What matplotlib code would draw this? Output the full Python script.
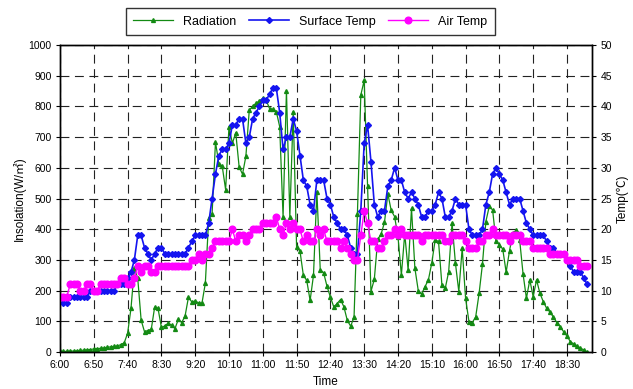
import numpy as np
import matplotlib
matplotlib.use("Agg")
import matplotlib.pyplot as plt

plt.rcParams['font.family'] = ['Liberation Sans', 'Noto Sans CJK KR']

# readings every 5 minutes, 6:00 .. 19:00
step_min = 5
radiation = [
    2, 2, 2, 3, 3, 4, 5, 6, 7, 8,
    10, 11, 12, 13, 15, 17, 18, 20, 24, 30,
    61, 142, 273, 240, 104, 66, 70, 74, 146, 142,
    80, 85, 93, 88, 76, 106, 96, 117, 178, 163,
    166, 160, 159, 224, 436, 451, 684, 614, 605, 529,
    734, 680, 714, 603, 579, 638, 788, 800, 810, 818,
    826, 820, 793, 790, 783, 734, 440, 851, 440, 783,
    342, 329, 250, 233, 168, 250, 522, 268, 258, 214,
    179, 147, 158, 171, 147, 103, 84, 114, 450, 837,
    885, 540, 197, 237, 367, 384, 422, 515, 461, 441,
    376, 251, 385, 267, 468, 273, 200, 189, 213, 235,
    290, 365, 360, 218, 208, 262, 420, 289, 197, 338,
    175, 99, 96, 115, 191, 287, 425, 474, 463, 360,
    350, 335, 260, 330, 387, 396, 365, 255, 175, 235,
    180, 235, 191, 164, 142, 130, 113, 96, 83, 66,
    52, 34, 26, 20, 12, 7, 0,
]
surface_temp = [
    9, 8, 8, 9, 9, 9, 9, 9, 9, 10,
    10, 10, 10, 10, 10, 10, 10, 11, 11, 11,
    12, 13, 15, 19, 19, 17, 16, 15, 16, 17,
    17, 16, 16, 16, 16, 16, 16, 16, 17, 18,
    19, 19, 19, 19, 21, 25, 29, 32, 33, 33,
    34, 37, 37, 38, 38, 34, 35, 38, 39, 40,
    41, 41, 42, 43, 43, 39, 33, 35, 35, 38,
    36, 32, 28, 27, 24, 23, 28, 28, 28, 25,
    24, 22, 21, 20, 20, 19, 17, 16, 16, 23,
    34, 37, 31, 24, 22, 23, 23, 27, 28, 30,
    28, 28, 26, 25, 26, 25, 24, 22, 22, 23,
    23, 24, 26, 25, 22, 22, 23, 25, 24, 24,
    24, 20, 19, 19, 19, 20, 24, 26, 29, 30,
    29, 28, 26, 24, 25, 25, 25, 23, 21, 20,
    19, 19, 19, 19, 18, 17, 17, 16, 16, 16,
    15, 14, 13, 13, 13, 12, 11,
]
air_temp = [
    9, 9, 9, 11, 11, 11, 10, 10, 11, 11,
    10, 10, 11, 11, 11, 11, 11, 11, 12, 12,
    11, 11, 12, 14, 13, 14, 14, 13, 13, 14,
    14, 14, 14, 14, 14, 14, 14, 14, 14, 15,
    15, 16, 15, 16, 16, 17, 18, 18, 18, 18,
    18, 20, 18, 19, 19, 18, 19, 20, 20, 20,
    21, 21, 21, 21, 22, 20, 19, 21, 20, 21,
    20, 20, 18, 19, 18, 18, 20, 19, 20, 18,
    18, 18, 18, 17, 18, 17, 16, 15, 15, 19,
    23, 21, 18, 18, 17, 17, 18, 19, 19, 20,
    19, 20, 19, 19, 19, 19, 19, 18, 19, 19,
    19, 19, 19, 19, 18, 18, 19, 19, 19, 19,
    18, 17, 17, 17, 18, 18, 19, 19, 20, 19,
    19, 19, 19, 18, 19, 19, 19, 18, 18, 18,
    17, 17, 17, 17, 17, 16, 16, 16, 16, 16,
    15, 15, 15, 15, 14, 14, 14,
]
tick_labels = ['6:00', '6:50', '7:40', '8:30', '9:20', '10:10', '11:00', '11:50',
               '12:40', '13:30', '14:20', '15:10', '16:00', '16:50', '17:40', '18:30']

minutes = np.arange(len(radiation)) * step_min

fig = plt.figure(figsize=(6.33, 3.89), dpi=100)
ax = fig.add_axes([0.0948, 0.0951, 0.8404, 0.7892])
ax2 = ax.twinx()

grid_style = dict(color='#222222', lw=0.8, linestyle=(0, (8, 5)))
ax.set_axisbelow(True)
ax.grid(True, **grid_style)

l1, = ax.plot(minutes, radiation, color='#138a13', lw=0.9, marker='^', ms=2.8,
              label='Radiation')
l2, = ax2.plot(minutes, surface_temp, color='#1414f0', lw=1.2, marker='D', ms=3,
               label='Surface Temp')
l3, = ax2.plot(minutes, air_temp, color='#ff00ff', lw=1.0, marker='o', ms=4.8,
               label='Air Temp')

ax.set_xlim(0, 787)
ax.set_ylim(0, 1000)
ax2.set_ylim(0, 50)
ax.set_yticks(np.arange(0, 1001, 100))
ax2.set_yticks(np.arange(0, 51, 5))
ax.set_xticks(np.arange(len(tick_labels)) * 50)
ax.set_xticklabels(tick_labels)

for a in (ax, ax2):
    a.tick_params(labelsize=7.5, length=3, width=0.8, pad=3)
    for s in a.spines.values():
        s.set_linewidth(1.0)
        s.set_color('black')

ax.set_xlabel('Time', fontsize=8.5, labelpad=4)
ax.set_ylabel('Insolation(W/㎡)', fontsize=8.5, labelpad=2)
ax2.set_ylabel('Temp(℃)', fontsize=8.5, labelpad=3)

leg = fig.legend(handles=[l1, l2, l3], loc='upper center', ncol=3,
                 bbox_to_anchor=(0.49, 0.995), fontsize=9, frameon=True,
                 fancybox=False, edgecolor='black', handlelength=3.2,
                 columnspacing=1.0, borderpad=0.6)
leg.get_frame().set_linewidth(1.0)

fig.savefig('out.png', dpi=100)
